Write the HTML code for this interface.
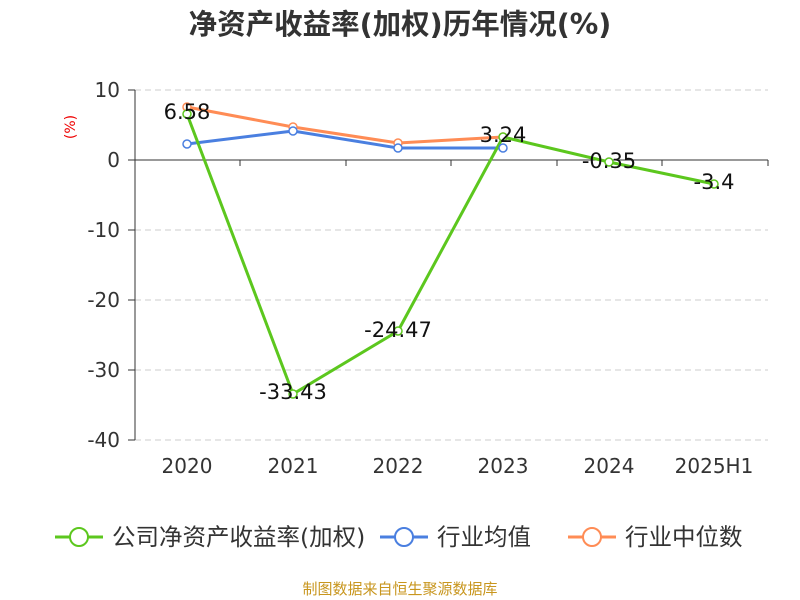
<!DOCTYPE html>
<html><head><meta charset="utf-8"><style>body{margin:0;background:#fff}svg{display:block}</style></head><body>
<svg width="800" height="600" xmlns="http://www.w3.org/2000/svg" font-family="DejaVu Sans, Noto Sans CJK SC, sans-serif">
<text x="400" y="34" text-anchor="middle" font-size="28.5" font-weight="bold" fill="#333">净资产收益率(加权)历年情况(%)</text>
<text x="75" y="127" font-size="14" fill="#e00" transform="rotate(-90 75 127)" text-anchor="middle">(%)</text>
<g stroke="#ccc" stroke-dasharray="6,4" stroke-width="1">
<line x1="135" y1="90" x2="768" y2="90"/><line x1="135" y1="230" x2="768" y2="230"/><line x1="135" y1="300" x2="768" y2="300"/><line x1="135" y1="370" x2="768" y2="370"/><line x1="135" y1="440" x2="768" y2="440"/>
</g>
<line x1="135" y1="90" x2="135" y2="440" stroke="#333"/>
<line x1="135" y1="160" x2="768" y2="160" stroke="#333"/>
<g stroke="#333"><line x1="128" y1="90" x2="135" y2="90"/><line x1="128" y1="160" x2="135" y2="160"/><line x1="128" y1="230" x2="135" y2="230"/><line x1="128" y1="300" x2="135" y2="300"/><line x1="128" y1="370" x2="135" y2="370"/><line x1="128" y1="440" x2="135" y2="440"/>
<line x1="240" y1="160" x2="240" y2="166"/><line x1="346" y1="160" x2="346" y2="166"/><line x1="451" y1="160" x2="451" y2="166"/><line x1="557" y1="160" x2="557" y2="166"/><line x1="662" y1="160" x2="662" y2="166"/><line x1="768" y1="160" x2="768" y2="166"/></g>
<g font-size="20" fill="#333" text-anchor="end"><text x="120" y="97">10</text><text x="120" y="167">0</text><text x="120" y="237">-10</text><text x="120" y="307">-20</text><text x="120" y="377">-30</text><text x="120" y="447">-40</text></g>
<g font-size="20" fill="#333" text-anchor="middle"><text x="187" y="473">2020</text><text x="293" y="473">2021</text><text x="398" y="473">2022</text><text x="503" y="473">2023</text><text x="609" y="473">2024</text><text x="714" y="473">2025H1</text></g>
<polyline fill="none" stroke="#ff8c55" stroke-width="3" points="187,107 293,127 398,143 503,137"/>
<polyline fill="none" stroke="#4a7fe0" stroke-width="3" points="187,144 293,131 398,148 503,148"/>
<polyline fill="none" stroke="#5cc71e" stroke-width="3" points="187,114 293,394 398,331 503,137 609,162 714,184"/>
<g fill="#fff" stroke-width="1.5">
<g stroke="#ff8c55"><circle cx="187" cy="107" r="4"/><circle cx="293" cy="127" r="4"/><circle cx="398" cy="143" r="4"/><circle cx="503" cy="137" r="4"/></g>
<g stroke="#4a7fe0"><circle cx="187" cy="144" r="4"/><circle cx="293" cy="131" r="4"/><circle cx="398" cy="148" r="4"/><circle cx="503" cy="148" r="4"/></g>
<g stroke="#5cc71e"><circle cx="187" cy="114" r="4"/><circle cx="293" cy="394" r="4"/><circle cx="398" cy="331" r="4"/><circle cx="503" cy="137" r="4"/><circle cx="609" cy="162" r="4"/><circle cx="714" cy="184" r="4"/></g>
</g>
<g font-size="21" fill="#111" text-anchor="middle"><text x="187" y="119">6.58</text><text x="293" y="399">-33.43</text><text x="398" y="337">-24.47</text><text x="503" y="142">3.24</text><text x="609" y="168">-0.35</text><text x="714" y="189">-3.4</text></g>
<g font-size="23.5" fill="#333">
<line x1="55" y1="537" x2="103" y2="537" stroke="#5cc71e" stroke-width="3"/><circle cx="79" cy="537" r="9" fill="#fff" stroke="#5cc71e" stroke-width="2"/><text x="112" y="545">公司净资产收益率(加权)</text>
<line x1="380" y1="537" x2="428" y2="537" stroke="#4a7fe0" stroke-width="3"/><circle cx="404" cy="537" r="9" fill="#fff" stroke="#4a7fe0" stroke-width="2"/><text x="437" y="545">行业均值</text>
<line x1="568" y1="537" x2="616" y2="537" stroke="#ff8c55" stroke-width="3"/><circle cx="592" cy="537" r="9" fill="#fff" stroke="#ff8c55" stroke-width="2"/><text x="625" y="545">行业中位数</text>
</g>
<text x="400" y="594" text-anchor="middle" font-size="15" fill="#c8961e">制图数据来自恒生聚源数据库</text>
</svg>
</body></html>
